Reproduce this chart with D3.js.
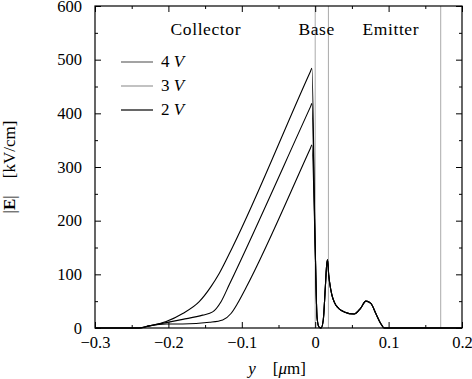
<!DOCTYPE html>
<html>
<head>
<meta charset="utf-8">
<script src="https://cdn.jsdelivr.net/npm/d3@7"></script>
<style>
  body { margin: 0; background: #fff; }
  svg text { font-family: "Liberation Serif", serif; fill: #000; }
</style>
</head>
<body>
<svg id="svgField" width="472" height="379"></svg>
<script>
// field profile |E| vs depth y, for three collector voltages
var seriesNames = ["4 V", "3 V", "2 V"];
var legendColors = ["#666", "#999", "#000"];

// collector side (y < 0), one per voltage
var x4V = [-0.3, -0.24, -0.226, -0.203, -0.1805, -0.158, -0.142, -0.1306, -0.1125, -0.0065, -0.0045];
var e4V = [0, 0, 4, 12, 27, 49, 77, 102, 151, 478, 484];

var x3V = [-0.3, -0.24, -0.226, -0.203, -0.1805, -0.1533, -0.1397, -0.1283, -0.117, -0.0065, -0.0045];
var e3V = [0, 0, 4, 10, 16, 24, 30, 49, 81, 412, 418];

var x2V = [-0.3, -0.24, -0.226, -0.203, -0.1805, -0.144, -0.126, -0.1147, -0.1057, -0.0943, -0.0065, -0.0045];
var e2V = [0, 0, 4, 7.5, 7.5, 10.6, 15, 27, 46, 75, 335, 341];

// base / emitter side, same for all three
var xCommon = [0, 0.0025, 0.005, 0.008, 0.011, 0.0136, 0.0156, 0.0168, 0.0184, 0.0213, 0.028, 0.0395, 0.053, 0.062, 0.069, 0.0758, 0.0826, 0.089, 0.094, 0.2];
var eCommon = [150, 20, 2, 0, 15, 71, 117, 127, 99, 71, 43, 30, 26, 37, 50, 46, 27, 9, 0, 0];

// region boundaries and labels
var boundaries = [0, 0.018, 0.171];
var regionNames = ["Collector", "Base", "Emitter"];
var regionPos = [-0.149, 0.002, 0.103];

var xTicks = [-0.3, -0.2, -0.1, 0, 0.1, 0.2];
var yTicks = [0, 100, 200, 300, 400, 500, 600];
var xMinorTicks = [-0.25, -0.15, -0.05, 0.05, 0.15];
var yMinorTicks = [50, 150, 250, 350, 450, 550];

var margins = { left: 95, top: 6, right: 10, bottom: 51 };
var outerWidth = 472, outerHeight = 379;
var innerWidth = 462 - margins.left;
var innerHeight = 328 - margins.top;

var svg = d3.select("svg#svgField");
var plot = svg.append("g")
    .attr("transform", "translate(" + margins.left + "," + margins.top + ")");

var xScale = d3.scaleLinear().domain([-0.3, 0.2]).range([0, innerWidth]);
var yScale = d3.scaleLinear().domain([0, 600]).range([innerHeight, 0]);

function buildSeries(xs, es) {
    var pts = xs.map(function(x, i) { return { x: x, e: es[i] }; });
    xCommon.forEach(function(x, i) { pts.push({ x: x, e: eCommon[i] }); });
    return pts;
}
var allSeries = [buildSeries(x4V, e4V), buildSeries(x3V, e3V), buildSeries(x2V, e2V)];

// boundary lines
plot.selectAll(".bound")
    .data(boundaries)
    .enter()
    .append("line")
    .attr("x1", function(d) { return xScale(d); })
    .attr("x2", function(d) { return xScale(d); })
    .attr("y1", 0)
    .attr("y2", innerHeight)
    .attr("stroke", "#aaa")
    .attr("stroke-width", 1);

function fmtX(d) { return d == 0 ? "0" : d3.format(".1f")(d).replace("-", "\u2212\u2009"); }

// axes: major ticks with labels, minor ticks, mirrored on top / right, all pointing inward
function addAxis(axis, transform, labels) {
    var g = plot.append("g")
        .attr("transform", transform)
        .call(axis);
    g.select(".domain").remove();
    g.selectAll("line").attr("stroke", "#000");
    g.selectAll("text")
        .attr("font-family", "Liberation Serif, serif")
        .attr("font-size", "16.5px")
        .attr("fill", "#000");
    if (!labels) g.selectAll("text").remove();
    return g;
}

addAxis(d3.axisBottom(xScale).tickValues(xTicks).tickSizeInner(-6).tickSizeOuter(0).tickPadding(8).tickFormat(fmtX),
    "translate(0," + innerHeight + ")", true);
addAxis(d3.axisBottom(xScale).tickValues(xMinorTicks).tickSizeInner(-3).tickSizeOuter(0),
    "translate(0," + innerHeight + ")", false);
addAxis(d3.axisTop(xScale).tickValues(xTicks).tickSizeInner(-6).tickSizeOuter(0), "translate(0,0)", false);
addAxis(d3.axisTop(xScale).tickValues(xMinorTicks).tickSizeInner(-3).tickSizeOuter(0), "translate(0,0)", false);

addAxis(d3.axisLeft(yScale).tickValues(yTicks).tickSizeInner(-6).tickSizeOuter(0).tickPadding(13),
    "translate(0,0)", true);
addAxis(d3.axisLeft(yScale).tickValues(yMinorTicks).tickSizeInner(-3).tickSizeOuter(0), "translate(0,0)", false);
addAxis(d3.axisRight(yScale).tickValues(yTicks).tickSizeInner(-6).tickSizeOuter(0),
    "translate(" + innerWidth + ",0)", false);
addAxis(d3.axisRight(yScale).tickValues(yMinorTicks).tickSizeInner(-3).tickSizeOuter(0),
    "translate(" + innerWidth + ",0)", false);

// curves
var line = d3.line()
    .x(function(d) { return xScale(d.x); })
    .y(function(d) { return yScale(d.e); })
    .curve(d3.curveMonotoneX);

plot.selectAll(".curve")
    .data(allSeries)
    .enter()
    .append("path")
    .attr("d", line)
    .attr("fill", "none")
    .attr("stroke", "#000")
    .attr("stroke-width", 1.1);

// frame
plot.append("rect")
    .attr("width", innerWidth)
    .attr("height", innerHeight)
    .attr("fill", "none")
    .attr("stroke", "#000")
    .attr("stroke-width", 1.2);

// region labels
plot.selectAll(".region")
    .data(regionNames)
    .enter()
    .append("text")
    .attr("x", function(d, i) { return xScale(regionPos[i]); })
    .attr("y", 29)
    .attr("text-anchor", "middle")
    .attr("font-size", "17.5px")
    .attr("letter-spacing", "0.6px")
    .text(function(d) { return d; });

// legend
var legend = plot.selectAll(".legend")
    .data(seriesNames)
    .enter()
    .append("g")
    .attr("transform", function(d, i) { return "translate(26," + (56 + i * 24) + ")"; });
legend.append("line")
    .attr("x1", 0).attr("x2", 32)
    .attr("stroke", function(d, i) { return legendColors[i]; })
    .attr("stroke-width", 1.2);
legend.append("text")
    .attr("x", 40)
    .attr("y", 5)
    .attr("font-size", "17px")
    .html(function(d) { return d.split(" ")[0] + " <tspan font-style='italic'>V</tspan>"; });

// axis titles
svg.append("text")
    .attr("x", 277)
    .attr("y", 374)
    .attr("text-anchor", "middle")
    .attr("font-size", "17px")
    .html("<tspan font-style='italic'>y</tspan>\u2003[<tspan font-style='italic'>\u03bc</tspan>m]");

svg.append("text")
    .attr("transform", "translate(15,167) rotate(-90)")
    .attr("text-anchor", "middle")
    .attr("font-size", "17px")
    .html("|<tspan font-weight='bold'>E</tspan>|\u2003[kV/cm]");
</script>
</body>
</html>
